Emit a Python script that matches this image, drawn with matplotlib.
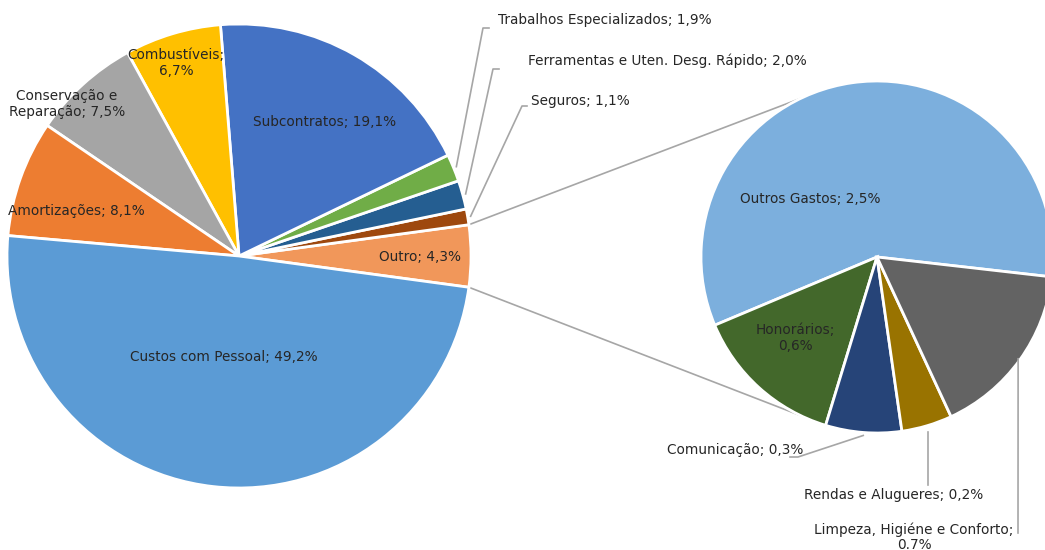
import numpy as np
import matplotlib
matplotlib.use("Agg")
import matplotlib.pyplot as plt

# ---- data ----
main_labels = ["Outro", "Seguros", "Ferramentas e Uten. Desg. Rápido", "Trabalhos Especializados",
               "Subcontratos", "Combustíveis", "Conservação e Reparação", "Amortizações",
               "Custos com Pessoal"]
main_values = [4.3, 1.1, 2.0, 1.9, 19.1, 6.7, 7.5, 8.1, 49.2]
main_texts = ["Outro; 4,3%", "Seguros; 1,1%", "Ferramentas e Uten. Desg. Rápido; 2,0%",
              "Trabalhos Especializados; 1,9%", "Subcontratos; 19,1%", "Combustíveis;\n6,7%",
              "Conservação e\nReparação; 7,5%", "Amortizações; 8,1%", "Custos com Pessoal; 49,2%"]

sub_labels = ["Outros Gastos", "Honorários", "Comunicação", "Rendas e Alugueres",
              "Limpeza, Higiéne e Conforto"]
sub_values = [2.5, 0.6, 0.3, 0.2, 0.7]
sub_texts = ["Outros Gastos; 2,5%", "Honorários;\n0,6%", "Comunicação; 0,3%",
             "Rendas e Alugueres; 0,2%", "Limpeza, Higiéne e Conforto;\n0.7%"]

main_colors = ["#F1975A", "#9E480E", "#255E91", "#70AD47", "#4472C4", "#FFC000",
               "#A5A5A5", "#ED7D31", "#5B9BD5"]
sub_colors = ["#7CAFDD", "#43682B", "#264478", "#997300", "#636363"]

# ---- layout (pixel space, image y downward converted) ----
W, H = 1045, 550
def P(x, y):
    return x, H - y

fig = plt.figure(figsize=(W / 100, H / 100), dpi=100)
ax = fig.add_axes([0, 0, 1, 1])

mc = P(239, 256); mr = 232
sc = P(877, 257); sr = 176

main_start = -main_values[0] / sum(main_values) * 360 / 2
ax.pie(main_values, colors=main_colors, center=mc, radius=mr, startangle=main_start,
       counterclock=True, wedgeprops=dict(edgecolor="white", linewidth=2), frame=True)
sub_start = -6.5
ax.pie(sub_values, colors=sub_colors, center=sc, radius=sr, startangle=sub_start,
       counterclock=True, wedgeprops=dict(edgecolor="white", linewidth=2), frame=True)
ax.set_xlim(0, W)
ax.set_ylim(0, H)
ax.set_aspect("equal")
ax.axis("off")

txt_color = "#262626"
line_color = "#A6A6A6"
fs = 9.8

# connectors between pies
for a_main, ang2 in [(-main_start, 115.7), (main_start, 253.4)]:
    a1 = np.deg2rad(a_main)
    x1 = mc[0] + mr * np.cos(a1); y1 = mc[1] + mr * np.sin(a1)
    a2 = np.deg2rad(ang2)
    x2 = sc[0] + sr * np.cos(a2); y2 = sc[1] + sr * np.sin(a2)
    ax.plot([x1, x2], [y1, y2], color=line_color, lw=1.2, zorder=0.5)

def mids(values, start):
    tot = sum(values)
    out = []
    c = start
    for v in values:
        span = v / tot * 360
        out.append(c + span / 2)
        c += span
    return out

mm = mids(main_values, main_start)
sm = mids(sub_values, sub_start)

# inside labels (positions in image px)
inside_main = {0: (420, 257), 4: (325, 122), 5: (176, 63), 6: (67, 104), 7: (76, 211), 8: (224, 357)}
for i, (x, y) in inside_main.items():
    ax.text(*P(x, y), main_texts[i], ha="center", va="center", fontsize=fs, color=txt_color,
            linespacing=1.1)
inside_sub = {0: (810, 199), 1: (795, 338)}
for i, (x, y) in inside_sub.items():
    ax.text(*P(x, y), sub_texts[i], ha="center", va="center", fontsize=fs, color=txt_color,
            linespacing=1.1)

def start_pt(center, radius, ang, extra=3):
    a = np.deg2rad(ang)
    return center[0] + (radius + extra) * np.cos(a), center[1] + (radius + extra) * np.sin(a)

out_main = [
    (3, (483, 28), (489, 28), (498, 20), "left"),
    (2, (493, 69), (499, 69), (528, 61), "left"),
    (1, (522, 106), (527, 106), (531, 101), "left"),
]
for i, elbow, end, tp, ha in out_main:
    s = start_pt(mc, mr, mm[i])
    e1 = P(*elbow); e2 = P(*end)
    ax.plot([s[0], e1[0], e2[0]], [s[1], e1[1], e2[1]], color=line_color, lw=1.2)
    ax.text(*P(*tp), main_texts[i], ha=ha, va="center", fontsize=fs, color=txt_color)

# Comunicação
s = start_pt(sc, sr, sm[2])
e1 = P(798, 457); e2 = P(790, 457)
ax.plot([s[0], e1[0], e2[0]], [s[1], e1[1], e2[1]], color=line_color, lw=1.2)
ax.text(*P(803, 450), sub_texts[2], ha="right", va="center", fontsize=fs, color=txt_color)
# Rendas
e1 = P(928, 432); e2 = P(928, 485)
ax.plot([e1[0], e2[0]], [e1[1], e2[1]], color=line_color, lw=1.2)
ax.text(*P(894, 495), sub_texts[3], ha="center", va="center", fontsize=fs, color=txt_color)
# Limpeza
s = start_pt(sc, sr, sm[4], extra=-2)
e2 = P(1018, 533)
ax.plot([s[0], e2[0]], [s[1], e2[1]], color=line_color, lw=1.2)
ax.text(*P(914, 537), sub_texts[4], ha="center", va="center", fontsize=fs, color=txt_color,
        linespacing=1.1)

fig.savefig("out.png", dpi=100)
